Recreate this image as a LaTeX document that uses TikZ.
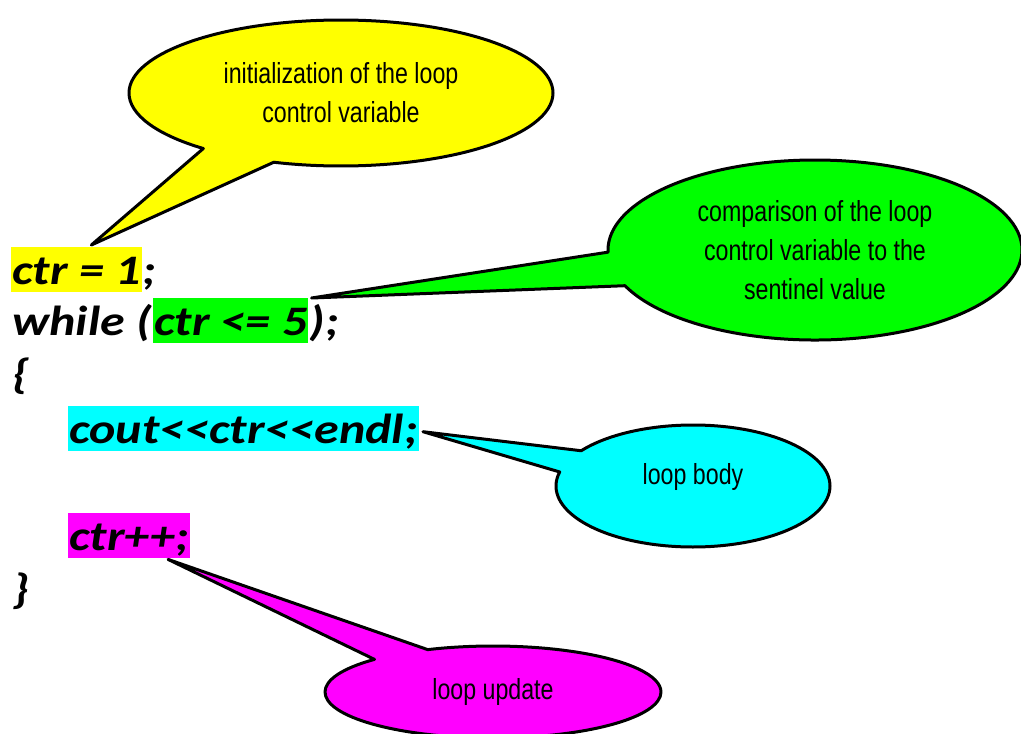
\documentclass[tikz,border=0pt]{standalone}
\usepackage{fontspec}
\newfontfamily\codefont[FakeStretch=1.19]{Carlito}
\newfontfamily\notefont[FakeStretch=0.8]{Liberation Sans}
\usetikzlibrary{shapes.callouts,positioning}
\definecolor{hlyellow}{RGB}{255,255,0}
\definecolor{hlgreen}{RGB}{0,255,0}
\definecolor{hlcyan}{RGB}{0,255,255}
\definecolor{hlmagenta}{RGB}{255,0,255}

\begin{document}
\begin{tikzpicture}[x=1pt,y=-1pt,
  code/.style={inner xsep=1pt,inner ysep=0pt,text height=37pt,text depth=8pt,font=\codefont\bfseries\itshape\fontsize{42}{50}\selectfont},
  hl/.style={code,fill=#1},
  note/.style={ellipse callout,draw,line width=3pt,line join=round,fill=#1,inner sep=0pt,callout pointer arc=22,align=center,font=\notefont\fontsize{29}{39}\selectfont}
]
\path[use as bounding box,fill=white] (0,0) rectangle (1021,734);

% the code lines
\node[hl=hlyellow,anchor=north west] (init) at (11,247) {ctr = 1};
\node[code,right=0pt of init] (semi) {;};
\node[code,anchor=north west] (whl) at (11,298) {while (};
\node[hl=hlgreen,right=0pt of whl] (cmp) {ctr <= 5};
\node[code,right=0pt of cmp] (close) {);};
\node[code,anchor=north west] (open) at (11,351) {\{};
\node[hl=hlcyan,anchor=north west] (body) at (68,406) {cout<<ctr<<endl;};
\node[hl=hlmagenta,anchor=north west] (upd) at (68,513) {ctr++;};
\node[code,anchor=north west] (shut) at (11,566) {\}};

% the callouts
\node[note=hlyellow,minimum width=424pt,minimum height=146pt,
  callout absolute pointer={([xshift=15pt,yshift=2pt]init.north)}] (initnote) at (341,93)
  {initialization of the loop\\control variable};
\node[note=hlgreen,minimum width=414pt,minimum height=180pt,
  callout absolute pointer={([xshift=3pt]cmp.north east)}] (cmpnote) at (815,250)
  {comparison of the loop\\control variable to the\\sentinel value};
\node[note=hlcyan,minimum width=274pt,minimum height=122pt,
  callout absolute pointer={([xshift=4pt,yshift=-3pt]body.east)}] (bodynote) at (693,486)
  {\raisebox{24pt}{loop body}};
\node[note=hlmagenta,minimum width=336pt,minimum height=92pt,
  callout absolute pointer={([xshift=-22pt,yshift=-1pt]upd.south east)}] (updnote) at (493,692)
  {loop update};
\end{tikzpicture}
\end{document}
